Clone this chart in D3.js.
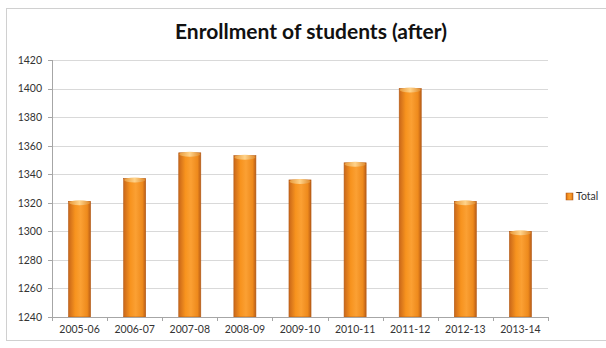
<!DOCTYPE html>
<html lang="en">
<head>
<meta charset="UTF-8">
<title>Enrollment of students (after)</title>
<script src="https://d3js.org/d3.v7.min.js"></script>
<style>
  body { margin: 0; background: #fff; }
  .axis text { font-family: Lato, "Open Sans", sans-serif; font-size: 10.5px; fill: #333; }
  .axis path, .axis line { stroke: #a6a6a6; shape-rendering: crispEdges; }
  .grid line { stroke: #d9d9d9; shape-rendering: crispEdges; }
  .title { font-family: Lato, "Open Sans", sans-serif; font-size: 21px; font-weight: bold; text-anchor: middle; fill: #111; }
</style>
</head>
<body>
<script>
var years = ["2005-06", "2006-07", "2007-08", "2008-09", "2009-10", "2010-11", "2011-12", "2012-13", "2013-14"];
var totals = [1321, 1337, 1355, 1353, 1336, 1348, 1400, 1321, 1300];
var yTicks = [1240, 1260, 1280, 1300, 1320, 1340, 1360, 1380, 1400, 1420];

var svg = d3.select("body").append("svg").attr("width", 606).attr("height", 348),
    margin = {top: 60, left: 52},
    width = 496,
    height = 257;

// chart frame
svg.append("rect").attr("x", 6.5).attr("y", 8.5).attr("width", 600).attr("height", 332)
    .attr("fill", "#fff").attr("stroke", "#d0d0d0");

var defs = svg.append("defs");
var grad = defs.append("linearGradient").attr("id", "barGrad").attr("x1", "0").attr("x2", "1").attr("y1", "0").attr("y2", "0");
grad.append("stop").attr("offset", "0%").attr("stop-color", "#c9671a");
grad.append("stop").attr("offset", "30%").attr("stop-color", "#f7931e");
grad.append("stop").attr("offset", "55%").attr("stop-color", "#fba033");
grad.append("stop").attr("offset", "85%").attr("stop-color", "#ee8a1c");
grad.append("stop").attr("offset", "100%").attr("stop-color", "#b95d17");
var capGrad = defs.append("linearGradient").attr("id", "capGrad").attr("x1", "0").attr("x2", "1");
capGrad.append("stop").attr("offset", "0%").attr("stop-color", "#e89a3a");
capGrad.append("stop").attr("offset", "50%").attr("stop-color", "#ffd38a");
capGrad.append("stop").attr("offset", "100%").attr("stop-color", "#e08a2a");

svg.append("text").attr("class", "title").attr("x", 311).attr("y", 39).text("Enrollment of students (after)");

var x = d3.scaleBand().domain(years).range([0, width]).paddingInner(0.6).paddingOuter(0.3);
var y = d3.scaleLinear().domain([1240, 1420]).range([height, 0]);

var g = svg.append("g").attr("transform", "translate(" + margin.left + "," + margin.top + ")");

g.append("g").attr("class", "grid")
    .selectAll("line").data(yTicks.slice(1)).enter().append("line")
    .attr("x1", 0).attr("x2", width)
    .attr("y1", function(d) { return Math.round(y(d)) + 0.5; })
    .attr("y2", function(d) { return Math.round(y(d)) + 0.5; });

var bars = g.selectAll(".bar").data(totals).enter().append("g").attr("class", "bar");
bars.append("rect")
    .attr("x", function(d, i) { return x(years[i]); })
    .attr("y", function(d) { return y(d); })
    .attr("width", x.bandwidth())
    .attr("height", function(d) { return height - y(d); })
    .attr("fill", "url(#barGrad)")
    .attr("stroke", "#b35a16").attr("stroke-width", 0.6);
bars.append("ellipse")
    .attr("cx", function(d, i) { return x(years[i]) + x.bandwidth() / 2; })
    .attr("cy", function(d) { return y(d) + 1.5; })
    .attr("rx", x.bandwidth() / 2 - 0.5).attr("ry", 2.5)
    .attr("fill", "url(#capGrad)");

g.append("g").attr("class", "axis")
    .call(d3.axisLeft(y).tickValues(yTicks).tickSize(4).tickPadding(6).tickFormat(d3.format("d")));

var xAxis = g.append("g").attr("class", "axis").attr("transform", "translate(0," + height + ")")
    .call(d3.axisBottom(x).tickSize(0).tickPadding(9));
xAxis.select(".domain").attr("d", "M0.5,0H" + width);
// category divider ticks
var step = x.step();
xAxis.selectAll(".div").data(d3.range(years.length + 1)).enter().append("line")
    .attr("x1", function(i) { return Math.round(x(years[0]) - x.paddingOuter() * step + i * step) + 0.5; })
    .attr("x2", function(i) { return Math.round(x(years[0]) - x.paddingOuter() * step + i * step) + 0.5; })
    .attr("y1", 0).attr("y2", 4);

// legend
var lg = svg.append("g").attr("transform", "translate(566,193)");
lg.append("rect").attr("width", 7).attr("height", 7).attr("fill", "url(#barGrad)").attr("stroke", "#b35a16").attr("stroke-width", 0.5);
lg.append("text").attr("x", 10).attr("y", 7).attr("font-family", "Lato, 'Open Sans', sans-serif").attr("font-size", "10.5px").attr("fill", "#333").text("Total");
</script>
</body>
</html>
